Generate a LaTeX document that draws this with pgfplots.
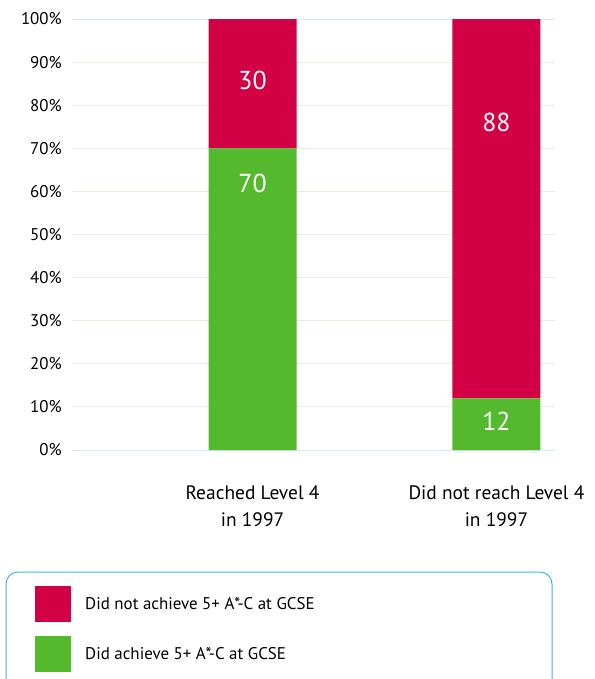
\documentclass[border=0pt]{standalone}
\usepackage{pgfplots}
\pgfplotsset{compat=1.18}
\usepackage{fontspec}
\setmainfont{PT Sans}
\definecolor{cred}{HTML}{D20045}
\definecolor{cgreen}{HTML}{55B92E}
\definecolor{gridg}{HTML}{E6EFDD}
\definecolor{gridb}{HTML}{D6E9F7}
\definecolor{boxb}{HTML}{45B3E8}
\begin{document}
\begin{tikzpicture}[x=1bp,y=1bp]
\path[use as bounding box] (0,0) rectangle (595,-679);
\clip (0,0) rectangle (595,-679);
\begin{axis}[
  at={(72bp,-450bp)}, anchor=south west,
  scale only axis, width=483bp, height=431bp,
  ymin=0, ymax=100, xmin=-0.74, xmax=1.24,
  ybar stacked, bar width=88bp,
  xtick={0,1},
  xticklabels={Reached Level 4\\in 1997, Did not reach Level 4\\in 1997},
  xticklabel style={align=center, font=\fontsize{19.5}{28}\selectfont, inner sep=0pt},
  xticklabel shift=35bp,
  ytick={10,20,...,90},
  yticklabels={10\%,20\%,30\%,40\%,50\%,60\%,70\%,80\%,90\%},
  extra y ticks={0,100},
  extra y tick labels={0\%,100\%},
  extra y tick style={grid style={gridb, line width=1bp}},
  ymajorgrids, grid style={gridg, line width=1bp},
  yticklabel style={font=\fontsize{17}{20}\selectfont, inner sep=0pt},
  yticklabel shift=10bp,
  axis line style={draw=none}, major tick length=0pt, tick style={draw=none},
  legend style={at={(-0.0766,-0.3155)}, anchor=north west, draw=none, fill=none,
    inner sep=0pt, row sep=14bp, column sep=14bp,
    font=\fontsize{17}{21}\selectfont, nodes={inner sep=0pt}},
  legend cell align=left,
  reverse legend,
  legend image code/.code={\fill[#1] (0bp,-18bp) rectangle (36bp,18bp);},
]
\addplot[fill=cgreen, draw=none] coordinates {(0,70) (1,12)};
\addplot[fill=cred, draw=none] coordinates {(0,30) (1,88)};
\legend{Did achieve 5+ A*-C at GCSE, Did not achieve 5+ A*-C at GCSE}
\coordinate (la) at (axis cs:0,85.8);
\coordinate (lb) at (axis cs:0,61.9);
\coordinate (lc) at (axis cs:1,76.1);
\coordinate (ld) at (axis cs:1,6.6);
\end{axis}
\begin{scope}[every node/.style={white, font=\fontsize{26}{26}\selectfont}]
\node at (la) {30};
\node at (lb) {70};
\node at (lc) {88};
\node at (ld) {12};
\end{scope}
\draw[boxb, line width=1bp, rounded corners=12bp] (6,-572) rectangle (552,-700);
\end{tikzpicture}
\end{document}
